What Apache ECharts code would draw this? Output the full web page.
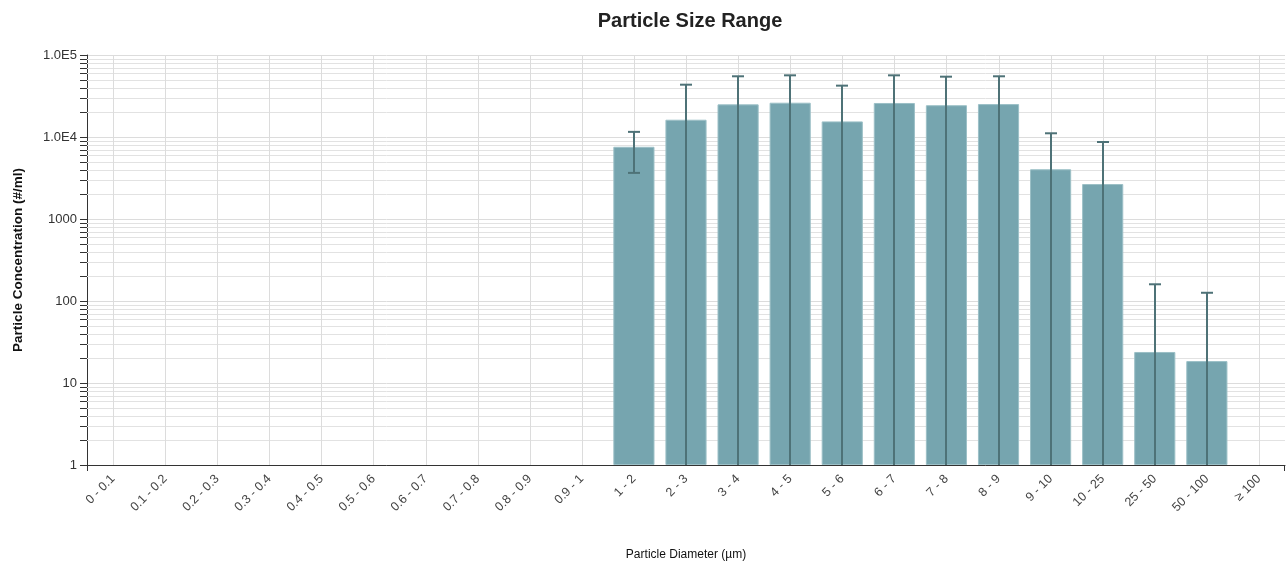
<!DOCTYPE html>
<html><head><meta charset="utf-8">
<script src="https://cdn.jsdelivr.net/npm/echarts@6/dist/echarts.min.js"></script>
<style>html,body{margin:0;padding:0;background:#fff}#c{width:1287px;height:563px}</style>
</head><body><div id="c"></div>
<script>
const categories = ['0 - 0.1','0.1 - 0.2','0.2 - 0.3','0.3 - 0.4','0.4 - 0.5','0.5 - 0.6','0.6 - 0.7','0.7 - 0.8','0.8 - 0.9','0.9 - 1','1 - 2','2 - 3','3 - 4','4 - 5','5 - 6','6 - 7','7 - 8','8 - 9','9 - 10','10 - 25','25 - 50','50 - 100','\u2265 100'];
const concentration = [null,null,null,null,null,null,null,null,null,null,7600,16250,25000,26200,15500,26000,24400,25200,4040,2670,23.9,18.5,null];
const stdDev = [null,null,null,null,null,null,null,null,null,null,3950,27200,30000,30300,26800,30500,30000,29800,7060,6020,136,107.5,null];
const minorMultipliers = [2,3,4,5,6,7,8,9];
const decades = [1,10,100,1000,10000];

const FONT = '"Liberation Sans", Arial, sans-serif';
const gridValues = [];
decades.forEach(d => minorMultipliers.forEach(m => gridValues.push([0, d * m])));
const errData = [];
concentration.forEach((v, i) => { if (v != null) errData.push([i, v, stdDev[i]]); });

const chart = echarts.init(document.getElementById('c'));
chart.setOption({
  animation: false,
  title: {
    text: 'Particle Size Range', left: 685, textAlign: 'center', top: 6,
    textStyle: {fontFamily: FONT, fontSize: 20, fontWeight: 'bold', color: '#222'}
  },
  grid: {left: 87, right: 2, top: 55, bottom: 98, containLabel: false, outerBoundsMode: 'none'},
  xAxis: {
    type: 'category', data: categories,
    axisLine: {lineStyle: {color: '#333', width: 1}},
    axisTick: {alignWithLabel: true, length: 6, lineStyle: {color: '#333'}},
    axisLabel: {rotate: 45, fontFamily: FONT, fontSize: 12.5, color: '#444', margin: 12, interval: 0},
    splitLine: {show: false},
    name: 'Particle Diameter (\u00b5m)', nameLocation: 'middle', nameGap: 84,
    nameTextStyle: {fontFamily: FONT, fontSize: 12, color: '#111'}
  },
  yAxis: {
    type: 'log', logBase: 10, min: 1, max: 100000,
    axisLine: {show: true, lineStyle: {color: '#333'}},
    axisTick: {show: true, length: 7, lineStyle: {color: '#333'}},
    axisLabel: {
      fontFamily: FONT, fontSize: 13, color: '#333', margin: 10,
      formatter: v => v >= 10000 ? v.toExponential(1).toUpperCase().replace('+', '') : String(v)
    },
    splitLine: {show: true, lineStyle: {color: '#dcdcdc'}},
    name: 'Particle Concentration (#/ml)', nameLocation: 'middle', nameGap: 62,
    nameTextStyle: {fontFamily: FONT, fontSize: 13.5, fontWeight: 'bold', color: '#111'}
  },
  series: [
    {
      type: 'custom', z: 1, silent: true, clip: false,
      data: gridValues, encode: {x: 0, y: 1},
      renderItem: (params, api) => {
        const cs = params.coordSys;
        const y = Math.round(api.coord([0, api.value(1)])[1]) + 0.5;
        return {type: 'group', children: [
          {type: 'line', shape: {x1: cs.x, y1: y, x2: cs.x + cs.width, y2: y}, style: {stroke: '#e2e2e2', lineWidth: 1}},
          {type: 'line', shape: {x1: cs.x - 7, y1: y, x2: cs.x, y2: y}, style: {stroke: '#333', lineWidth: 1}}
        ]};
      }
    },
    {
      type: 'custom', z: 1, silent: true, clip: false,
      data: categories.map((c, i) => [i, 1]), encode: {x: 0, y: 1},
      renderItem: (params, api) => {
        const cs = params.coordSys;
        const x = Math.round(api.coord([api.value(0), 1])[0]) + 0.5;
        const ch = [{type: 'line', shape: {x1: x, y1: cs.y, x2: x, y2: cs.y + cs.height}, style: {stroke: '#dcdcdc', lineWidth: 1}}];
        if (params.dataIndex === 0) {
          const b = cs.y + cs.height;
          ch.push({type: 'line', shape: {x1: cs.x + 0.5, y1: b, x2: cs.x + 0.5, y2: b + 6}, style: {stroke: '#333', lineWidth: 1}});
          ch.push({type: 'line', shape: {x1: cs.x + cs.width - 0.5, y1: b, x2: cs.x + cs.width - 0.5, y2: b + 6}, style: {stroke: '#333', lineWidth: 1}});
        }
        return {type: 'group', children: ch};
      }
    },
    {
      type: 'bar', data: concentration, z: 2, barCategoryGap: '21%',
      itemStyle: {color: '#76a5af', borderColor: '#9cc0c7', borderWidth: 1}
    },
    {
      type: 'custom', z: 3, silent: true,
      data: errData, encode: {x: 0, y: 1},
      renderItem: (params, api) => {
        const cs = params.coordSys;
        const i = api.value(0), m = api.value(1), s = api.value(2);
        const hi = m + s, lo = m - s;
        const x = Math.round(api.coord([i, m])[0]);
        const yHi = api.coord([i, hi])[1];
        const yLo = lo > 1 ? api.coord([i, lo])[1] : cs.y + cs.height;
        const st = {stroke: '#4e7277', lineWidth: 2};
        const ch = [
          {type: 'line', shape: {x1: x, y1: yHi, x2: x, y2: yLo}, style: st},
          {type: 'line', shape: {x1: x - 6, y1: yHi, x2: x + 6, y2: yHi}, style: st}
        ];
        if (lo > 1) ch.push({type: 'line', shape: {x1: x - 6, y1: yLo, x2: x + 6, y2: yLo}, style: st});
        return {type: 'group', children: ch};
      }
    }
  ]
});
</script></body></html>
